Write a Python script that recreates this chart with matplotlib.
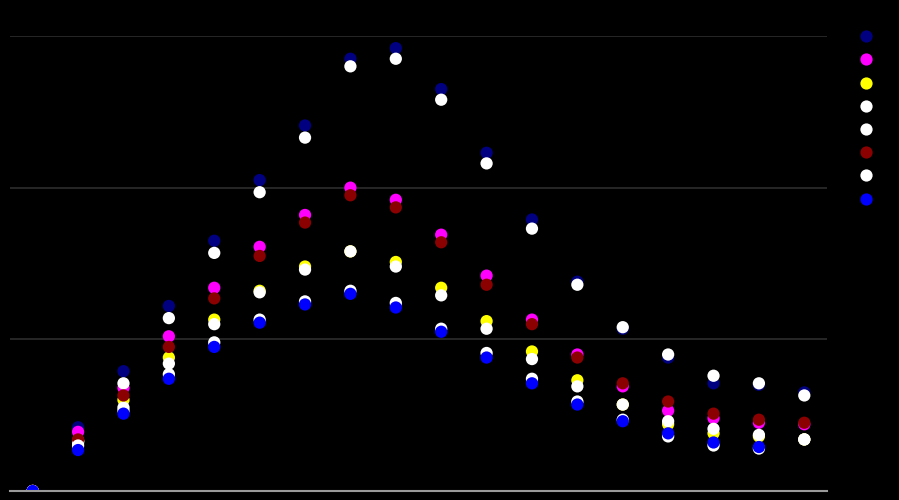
import numpy as np
import matplotlib
matplotlib.use("Agg")
import matplotlib.pyplot as plt
from matplotlib.lines import Line2D

# puntos x (18 categorias)
x = np.arange(18)

navy = [0, 4.2, 7.9, 12.2, 16.5, 20.5, 24.1, 28.5, 29.2, 26.5, 22.3, 17.9, 13.8, 10.7, 8.8, 7.1, 7.0, 6.5]
magenta = [0, 3.9, 6.8, 10.2, 13.4, 16.1, 18.2, 20.0, 19.2, 16.9, 14.2, 11.3, 9.0, 6.9, 5.3, 4.8, 4.5, 4.4]
yellow = [0, 3.3, 6.0, 8.8, 11.3, 13.2, 14.8, 15.8, 15.1, 13.4, 11.2, 9.2, 7.3, 5.7, 4.4, 3.8, 3.6, 3.4]
white_a = [0, 3.3, 7.1, 11.4, 15.7, 19.7, 23.3, 28.0, 28.5, 25.8, 21.6, 17.3, 13.6, 10.8, 9.0, 7.6, 7.1, 6.3]
white_b = [0, 3.2, 5.5, 8.4, 11.0, 13.1, 14.6, 15.8, 14.8, 12.9, 10.7, 8.7, 6.9, 5.7, 4.6, 4.1, 3.7, 3.4]
darkred = [0, 3.4, 6.3, 9.5, 12.7, 15.5, 17.7, 19.5, 18.7, 16.4, 13.6, 11.0, 8.8, 7.1, 5.9, 5.1, 4.7, 4.5]
white_c = [0, 3.0, 5.3, 7.7, 9.8, 11.3, 12.5, 13.2, 12.4, 10.7, 9.1, 7.4, 5.9, 4.7, 3.6, 3.0, 2.8, 3.4]
blue = [0, 2.7, 5.1, 7.4, 9.5, 11.1, 12.3, 13.0, 12.1, 10.5, 8.8, 7.1, 5.7, 4.6, 3.8, 3.2, 2.9, np.nan]

series = [navy, magenta, yellow, white_a, white_b, darkred, white_c, blue]
colores = ["#000080", "#ff00ff", "#ffff00", "#ffffff", "#ffffff", "#8b0000", "#ffffff", "#0000ff"]

fig = plt.figure(figsize=(8.99, 5), dpi=100, facecolor="black")
ax = fig.add_axes([10/899, 9/500, 817/899, 455/500])
ax.set_facecolor("black")

for s, c in zip(series, colores):
    ax.scatter(x, s, s=78, color=c, edgecolors="none", zorder=3)

ax.set_xlim(-0.5, 17.5)
ax.set_ylim(0, 30)
ax.set_yticks([0, 10, 20, 30])
ax.set_xticks([])
ax.yaxis.grid(True, color="#2a2a2a", linewidth=1.3)
ax.tick_params(length=0, labelleft=False)
for lado in ["top", "right", "left"]:
    ax.spines[lado].set_visible(False)
ax.spines["bottom"].set_color("#9a9a9a")
ax.spines["bottom"].set_linewidth(1.5)
ax.spines["bottom"].set_zorder(4)

handles = [Line2D([], [], linestyle="none", marker="o", markersize=8.8,
                  markerfacecolor=c, markeredgecolor="none") for c in colores]
fig.legend(handles, [""] * 8, loc="upper left", bbox_to_anchor=(851/899, 1 - 23/500),
           frameon=False, handlelength=1.2, handletextpad=0, labelspacing=0.665,
           fontsize=10, borderpad=0)

plt.savefig("out.png", dpi=100, facecolor="black")
